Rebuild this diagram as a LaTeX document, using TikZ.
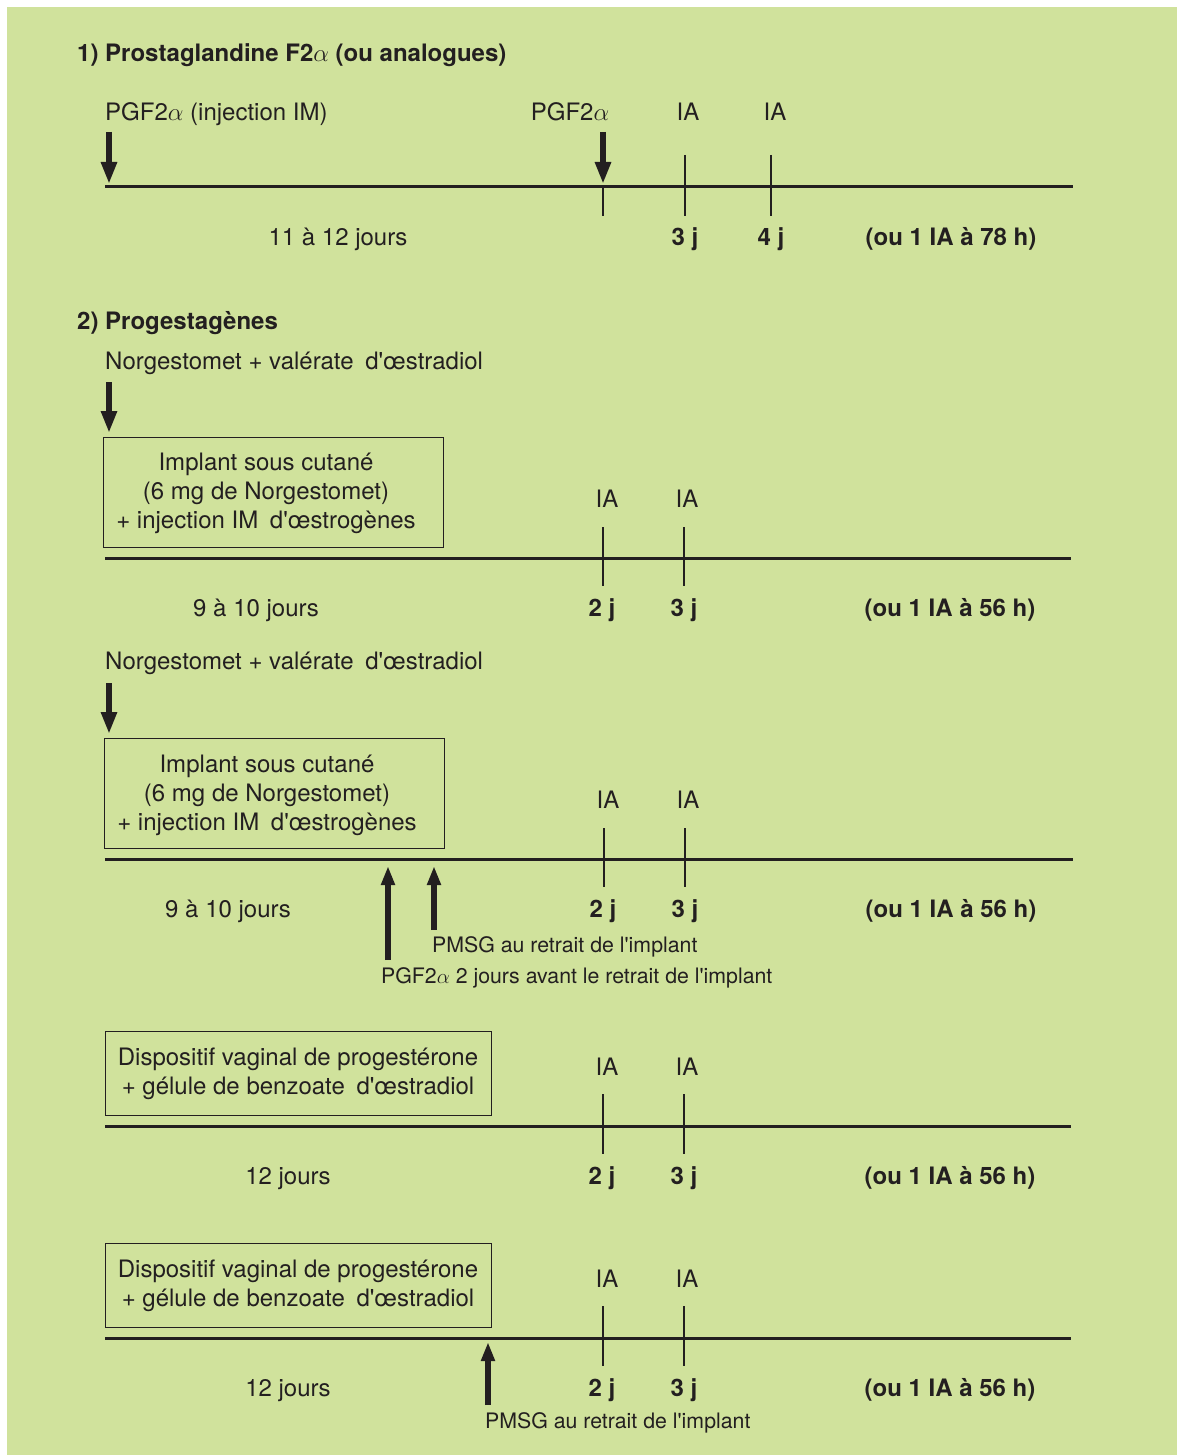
\documentclass[tikz,border=0pt]{standalone}
\usepackage{fontspec}
\setmainfont{TeX Gyre Heros}[Ligatures=TeXOff]
\usetikzlibrary{arrows.meta}
\definecolor{bg}{RGB}{208,226,156}
\definecolor{ink}{RGB}{35,31,32}
\newcommand{\wsp}{\hspace{5pt}}
\begin{document}
\begin{tikzpicture}[x=1pt,y=-1pt,
  every node/.style={inner sep=0pt, text=ink},
  lbl/.style={font=\fontsize{24}{29}\selectfont},
  blbl/.style={font=\fontsize{24}{29}\selectfont\bfseries},
  slbl/.style={font=\fontsize{21.3}{25}\selectfont},
  axis/.style={draw=ink, line width=3pt},
  tickline/.style={draw=ink, line width=2.5pt},
  boxframe/.style={draw=ink, line width=1.3pt, inner sep=0pt, anchor=north west},
  downarrow/.style={draw=ink, line width=6pt, -{Triangle[width=15pt,length=22pt]}},
  uparrow/.style={draw=ink, line width=5.5pt, -{Triangle[width=13pt,length=19pt]}},
]
\useasboundingbox (0,0) rectangle (1177,1455);
\fill[bg] (7,7) rectangle (1177,1455);

% ---------- Section 1 ----------
\node[blbl, anchor=base west] (title1) at (77,62) {1) Prostaglandine F2$\alpha$ (ou analogues)};
\node[lbl, anchor=base west] (pgfa) at (105,121) {PGF2$\alpha$ (injection IM)};
\node[lbl, anchor=base] (pgfb) at (570,121) {PGF2$\alpha$};
\node[lbl, anchor=base] (iaA1) at (688,121) {IA};
\node[lbl, anchor=base] (iaA2) at (775,121) {IA};
\coordinate (l1s) at (105,187); \coordinate (l1e) at (1073,187);
\draw[axis] (l1s) -- (l1e);
\coordinate (a1s) at (109,132); \coordinate (a1e) at (109,184);
\draw[downarrow] (a1s) -- (a1e);
\coordinate (a2s) at (603,132); \coordinate (a2e) at (603,184);
\draw[downarrow] (a2s) -- (a2e);
\coordinate (t0a) at (603,187); \coordinate (t0b) at (603,216);
\draw[tickline] (t0a) -- (t0b);
\coordinate (t1a) at (685,155); \coordinate (t1b) at (685,216);
\draw[tickline] (t1a) -- (t1b);
\coordinate (t2a) at (771,155); \coordinate (t2b) at (771,216);
\draw[tickline] (t2a) -- (t2b);
\node[lbl, anchor=base] (dur1) at (338,245) {11 à 12 jours};
\node[blbl, anchor=base] (jA3) at (685,245) {3 j};
\node[blbl, anchor=base] (jA4) at (771,245) {4 j};
\node[blbl, anchor=base] (ou1) at (951,245) {(ou 1 IA à 78 h)};

% ---------- Section 2, protocol a ----------
\node[blbl, anchor=base west] (title2) at (77,329) {2) Progestagènes};
\node[lbl, anchor=base west] (norg1) at (105,369) {Norgestomet + valérate\wsp{} d'œstradiol};
\coordinate (b1s) at (109,382); \coordinate (b1e) at (109,433);
\draw[downarrow] (b1s) -- (b1e);
\node[boxframe, minimum width=340pt, minimum height=110pt] (box1) at (103,437) {};
\node[lbl, align=center] (box1t) at (266,493.5) {Implant sous cutané\\(6 mg de Norgestomet)\\+ injection IM\wsp{} d'œstrogènes};
\coordinate (l2s) at (105,558); \coordinate (l2e) at (1071,558);
\draw[axis] (l2s) -- (l2e);
\node[lbl, anchor=base] (iaB1) at (607,507) {IA};
\node[lbl, anchor=base] (iaB2) at (687,507) {IA};
\coordinate (u1a) at (603,527); \coordinate (u1b) at (603,586);
\draw[tickline] (u1a) -- (u1b);
\coordinate (u2a) at (684,527); \coordinate (u2b) at (684,586);
\draw[tickline] (u2a) -- (u2b);
\node[lbl, anchor=base] (dur2) at (256,616) {9 à 10 jours};
\node[blbl, anchor=base] (jB2) at (602,616) {2 j};
\node[blbl, anchor=base] (jB3) at (684,616) {3 j};
\node[blbl, anchor=base] (ou2) at (950,616) {(ou 1 IA à 56 h)};

% ---------- Section 2, protocol b ----------
\node[lbl, anchor=base west] (norg2) at (105,669) {Norgestomet + valérate\wsp{} d'œstradiol};
\coordinate (c1s) at (109,683); \coordinate (c1e) at (109,734);
\draw[downarrow] (c1s) -- (c1e);
\node[boxframe, minimum width=340pt, minimum height=110pt] (box2) at (104,738) {};
\node[lbl, align=center] (box2t) at (267,795) {Implant sous cutané\\(6 mg de Norgestomet)\\+ injection IM\wsp{} d'œstrogènes};
\coordinate (l3s) at (105,859); \coordinate (l3e) at (1073,859);
\draw[axis] (l3s) -- (l3e);
\node[lbl, anchor=base] (iaC1) at (608,808) {IA};
\node[lbl, anchor=base] (iaC2) at (688,808) {IA};
\coordinate (v1a) at (604,828); \coordinate (v1b) at (604,887);
\draw[tickline] (v1a) -- (v1b);
\coordinate (v2a) at (685,828); \coordinate (v2b) at (685,887);
\draw[tickline] (v2a) -- (v2b);
\node[lbl, anchor=base] (dur3) at (228,917) {9 à 10 jours};
\node[blbl, anchor=base] (jC2) at (603,917) {2 j};
\node[blbl, anchor=base] (jC3) at (685,917) {3 j};
\node[blbl, anchor=base] (ou3) at (951,917) {(ou 1 IA à 56 h)};
\coordinate (p1s) at (388,960); \coordinate (p1e) at (388,866);
\draw[uparrow] (p1s) -- (p1e);
\coordinate (p2s) at (434,930); \coordinate (p2e) at (434,866);
\draw[uparrow] (p2s) -- (p2e);
\node[slbl, anchor=base west] (pmsg1) at (432,952) {PMSG au retrait de l'implant};
\node[slbl, anchor=base west] (pgf3) at (381,983) {PGF2$\alpha$ 2 jours avant le retrait de l'implant};

% ---------- Section 2, protocol c ----------
\node[boxframe, minimum width=386pt, minimum height=84pt] (box3) at (105,1031) {};
\node[lbl, align=center] (box3t) at (298,1074) {Dispositif vaginal de progestérone\\+ gélule de benzoate\wsp{} d'œstradiol};
\coordinate (l4s) at (105,1126); \coordinate (l4e) at (1071,1126);
\draw[axis] (l4s) -- (l4e);
\node[lbl, anchor=base] (iaD1) at (607,1075) {IA};
\node[lbl, anchor=base] (iaD2) at (687,1075) {IA};
\coordinate (w1a) at (603,1094); \coordinate (w1b) at (603,1154);
\draw[tickline] (w1a) -- (w1b);
\coordinate (w2a) at (684,1094); \coordinate (w2b) at (684,1154);
\draw[tickline] (w2a) -- (w2b);
\node[lbl, anchor=base] (dur4) at (288,1184) {12 jours};
\node[blbl, anchor=base] (jD2) at (602,1184) {2 j};
\node[blbl, anchor=base] (jD3) at (684,1184) {3 j};
\node[blbl, anchor=base] (ou4) at (950,1184) {(ou 1 IA à 56 h)};

% ---------- Section 2, protocol d ----------
\node[boxframe, minimum width=386pt, minimum height=84pt] (box4) at (105,1243) {};
\node[lbl, align=center] (box4t) at (298,1286) {Dispositif vaginal de progestérone\\+ gélule de benzoate\wsp{} d'œstradiol};
\coordinate (l5s) at (105,1338); \coordinate (l5e) at (1071,1338);
\draw[axis] (l5s) -- (l5e);
\node[lbl, anchor=base] (iaE1) at (607,1287) {IA};
\node[lbl, anchor=base] (iaE2) at (687,1287) {IA};
\coordinate (x1a) at (603,1306); \coordinate (x1b) at (603,1366);
\draw[tickline] (x1a) -- (x1b);
\coordinate (x2a) at (684,1306); \coordinate (x2b) at (684,1366);
\draw[tickline] (x2a) -- (x2b);
\node[lbl, anchor=base] (dur5) at (288,1396) {12 jours};
\node[blbl, anchor=base] (jE2) at (602,1396) {2 j};
\node[blbl, anchor=base] (jE3) at (684,1396) {3 j};
\node[blbl, anchor=base] (ou5) at (950,1396) {(ou 1 IA à 56 h)};
\coordinate (q1s) at (488,1405); \coordinate (q1e) at (488,1342);
\draw[uparrow] (q1s) -- (q1e);
\node[slbl, anchor=base west] (pmsg2) at (485,1428) {PMSG au retrait de l'implant};
\end{tikzpicture}
\end{document}
